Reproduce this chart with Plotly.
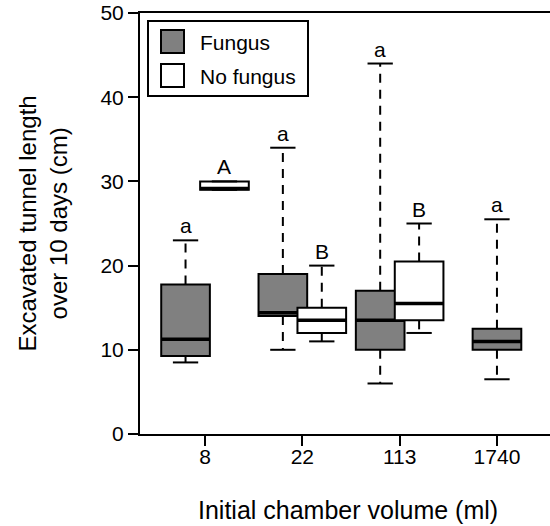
import plotly.graph_objects as go

# ---------------- data ----------------
categories = ["8", "22", "113", "1740"]
series_names = ["Fungus", "No fungus"]

fungus_min = [8.5, 10.0, 6.0, 6.5]
fungus_q1 = [9.25, 14.0, 10.0, 10.0]
fungus_median = [11.25, 14.4, 13.5, 11.0]
fungus_q3 = [17.75, 19.0, 17.0, 12.5]
fungus_max = [23.0, 34.0, 44.0, 25.5]
fungus_letters = ["a", "a", "a", "a"]

nofungus_cats = ["8", "22", "113"]
nofungus_min = [29.0, 11.0, 12.0]
nofungus_q1 = [29.0, 12.0, 13.5]
nofungus_median = [29.15, 13.5, 15.5]
nofungus_q3 = [30.0, 15.0, 20.5]
nofungus_max = [30.0, 20.0, 25.0]
nofungus_letters = ["A", "B", "B"]

y_ticks = [0, 10, 20, 30, 40, 50]

# ---------------- style / layout constants ----------------
FONT = "Liberation Sans, Arial, Helvetica, sans-serif"
GREY = "#808080"
fungus_shift = [-0.2, -0.2, -0.2, 0.0]
nofungus_shift = [0.2, 0.2, 0.2]
BOX_W = 0.5
CAP_HALF = 0.13

W, H = 550, 526
L, R, T, B = 140, 0, 13, 92
PW, PH = W - L - R, H - T - B


def px(xp):
    return (xp - L) / PW


def py(yp):
    return (H - B - yp) / PH


fig = go.Figure()


def add_group(name, cats, shift, mn, q1, med, q3, mx, fill, letters):
    pos = [categories.index(c) + s for c, s in zip(cats, shift)]
    fig.add_trace(go.Box(
        x=pos, q1=q1, median=med, q3=q3, lowerfence=q1, upperfence=q3,
        width=BOX_W, fillcolor=fill, line=dict(color="black", width=2),
        whiskerwidth=0, name=name, showlegend=False, hoverinfo="skip",
    ))
    # thicker median
    fig.add_trace(go.Box(
        x=pos, q1=med, median=med, q3=med, lowerfence=med, upperfence=med,
        width=BOX_W, fillcolor=fill, line=dict(color="black", width=3.5),
        whiskerwidth=0, name=name + " median", showlegend=False, hoverinfo="skip",
    ))
    wx, wy, cx, cy = [], [], [], []
    for p, a, b, c, d in zip(pos, mn, q1, q3, mx):
        wx += [p, p, None, p, p, None]
        wy += [c, d, None, b, a, None]
        cx += [p - CAP_HALF, p + CAP_HALF, None, p - CAP_HALF, p + CAP_HALF, None]
        cy += [d, d, None, a, a, None]
    fig.add_trace(go.Scatter(
        x=wx, y=wy, mode="lines", line=dict(color="black", width=2, dash="9px,7px"),
        showlegend=False, hoverinfo="skip",
    ))
    fig.add_trace(go.Scatter(
        x=cx, y=cy, mode="lines", line=dict(color="black", width=2),
        showlegend=False, hoverinfo="skip",
    ))
    for p, d, t in zip(pos, mx, letters):
        fig.add_annotation(x=p, y=d, text=t, showarrow=False, yanchor="bottom",
                           yshift=1, font=dict(family=FONT, size=21, color="black"))


add_group(series_names[0], categories, fungus_shift, fungus_min, fungus_q1,
          fungus_median, fungus_q3, fungus_max, GREY, fungus_letters)
add_group(series_names[1], nofungus_cats, nofungus_shift, nofungus_min, nofungus_q1,
          nofungus_median, nofungus_q3, nofungus_max, "white", nofungus_letters)

# ---------------- manual legend ----------------
fig.add_shape(type="rect", xref="paper", yref="paper",
              x0=px(148), x1=px(308), y0=py(96), y1=py(21),
              line=dict(color="black", width=2), fillcolor="white", layer="above")
for i, (name, fill) in enumerate(zip(series_names, [GREY, "white"])):
    top = 30 + i * 34
    fig.add_shape(type="rect", xref="paper", yref="paper",
                  x0=px(161), x1=px(184), y0=py(top + 23), y1=py(top),
                  line=dict(color="black", width=2), fillcolor=fill, layer="above")
    fig.add_annotation(xref="paper", yref="paper", x=px(198), y=py(top + 12),
                       xanchor="left", yanchor="middle", text=name, showarrow=False,
                       font=dict(family=FONT, size=21, color="black"))

# ---------------- axis titles ----------------
fig.add_annotation(xref="paper", yref="paper", x=px(348), y=py(510),
                   xanchor="center", yanchor="middle", showarrow=False,
                   text="Initial chamber volume (ml)",
                   font=dict(family=FONT, size=25, color="black"))
fig.add_annotation(xref="paper", yref="paper", x=px(42.5), y=py(224),
                   xanchor="center", yanchor="middle", showarrow=False, textangle=-90,
                   text="Excavated tunnel length<br>over 10 days (cm)",
                   font=dict(family=FONT, size=24, color="black"))

fig.update_layout(
    width=W, height=H,
    margin=dict(l=L, r=R, t=T, b=B, pad=0),
    paper_bgcolor="white", plot_bgcolor="white",
    boxmode="overlay", showlegend=False,
    font=dict(family=FONT, size=21, color="black"),
    xaxis=dict(
        range=[-0.668, 3.545], tickmode="array", tickvals=list(range(len(categories))),
        ticktext=categories, showgrid=False, zeroline=False,
        showline=True, mirror=True, linecolor="black", linewidth=2,
        ticks="outside", ticklen=10, tickwidth=1.5, tickcolor="black",
        ticklabelstandoff=-7,
        tickfont=dict(family=FONT, size=21, color="black"),
    ),
    yaxis=dict(
        range=[0, 50], tickmode="array", tickvals=y_ticks, showgrid=False, zeroline=False,
        showline=True, linecolor="black", linewidth=2,
        ticks="outside", ticklen=10, tickwidth=1.5, tickcolor="black",
        tickfont=dict(family=FONT, size=21, color="black"),
    ),
)

fig.write_html("out.html")
